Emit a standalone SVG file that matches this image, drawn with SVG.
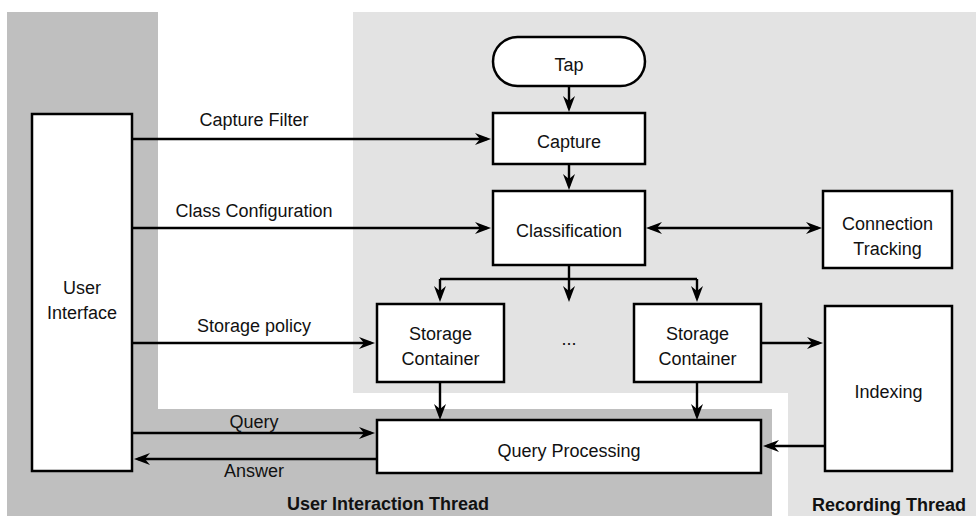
<svg xmlns="http://www.w3.org/2000/svg" width="976" height="516" viewBox="0 0 976 516">
  <style>
    .box { fill: #ffffff; stroke: #000000; stroke-width: 2.5; }
    .lbl { font-family: "Liberation Sans", Arial, Helvetica, sans-serif; font-size: 18px; fill: #111111; text-anchor: middle; }
    .title { font-family: "Liberation Sans", Arial, Helvetica, sans-serif; font-size: 18px; font-weight: bold; fill: #111111; text-anchor: middle; }
    .wire { fill: none; stroke: #000000; stroke-width: 2.4; }
    .arr { marker-end: url(#head); }
    .both { marker-start: url(#head); marker-end: url(#head); }
  </style>
  <defs>
    <marker id="head" viewBox="-17 -7 18 14" markerWidth="18" markerHeight="14" refX="-4" refY="0" orient="auto-start-reverse" markerUnits="userSpaceOnUse">
      <path d="M0,0 L-16,-6 L-11,0 L-16,6 Z" fill="#000000"/>
    </marker>
  </defs>

  <!-- thread regions -->
  <g id="threads">
    <polygon id="recording-area" points="353,12 976,12 976,516 788,516 788,393 353,393" fill="#e3e3e3"/>
    <polygon id="interaction-area" points="7,12 158,12 158,409 772,409 772,516 7,516" fill="#bfbfbf"/>
    <text class="title" x="388" y="510">User Interaction Thread</text>
    <text class="title" x="889" y="511">Recording Thread</text>
  </g>

  <!-- connectors -->
  <g id="connectors">
    <path class="wire arr" d="M569,87 V108"/>
    <path class="wire arr" d="M569,165 V186"/>
    <path class="wire arr" d="M133,139 H487"/>
    <path class="wire arr" d="M133,228 H487"/>
    <path class="wire both" d="M650,228 H818"/>
    <path class="wire" d="M569,266 V279 M440,279 H697"/>
    <path class="wire arr" d="M440,279 V298"/>
    <path class="wire arr" d="M569,279 V298"/>
    <path class="wire arr" d="M697,279 V298"/>
    <path class="wire arr" d="M133,343 H371"/>
    <path class="wire arr" d="M762,343 H819"/>
    <path class="wire arr" d="M440,383 V416"/>
    <path class="wire arr" d="M697,383 V416"/>
    <path class="wire arr" d="M133,433 H371"/>
    <path class="wire arr" d="M376,459 H138"/>
    <path class="wire arr" d="M824,446 H767"/>
    <text class="lbl" x="254" y="126">Capture Filter</text>
    <text class="lbl" x="254" y="216.5">Class Configuration</text>
    <text class="lbl" x="254" y="331.5">Storage policy</text>
    <text class="lbl" x="254" y="427.5">Query</text>
    <text class="lbl" x="254" y="476.5">Answer</text>
    <text class="lbl" x="569" y="345">...</text>
  </g>

  <!-- nodes -->
  <g id="user-interface">
    <rect class="box" x="32" y="114" width="100" height="357"/>
    <text class="lbl" x="82" y="294">User</text>
    <text class="lbl" x="82" y="318.5">Interface</text>
  </g>
  <g id="tap">
    <rect class="box" x="493" y="37" width="152" height="49" rx="24.5"/>
    <text class="lbl" x="569" y="70.5">Tap</text>
  </g>
  <g id="capture">
    <rect class="box" x="493" y="113" width="152" height="51"/>
    <text class="lbl" x="569" y="148">Capture</text>
  </g>
  <g id="classification">
    <rect class="box" x="493" y="191" width="152" height="74"/>
    <text class="lbl" x="569" y="236.5">Classification</text>
  </g>
  <g id="connection-tracking">
    <rect class="box" x="823" y="191" width="129" height="77"/>
    <text class="lbl" x="887.5" y="230">Connection</text>
    <text class="lbl" x="887.5" y="254.5">Tracking</text>
  </g>
  <g id="storage-container-1">
    <rect class="box" x="377" y="304" width="127" height="78"/>
    <text class="lbl" x="440.5" y="340">Storage</text>
    <text class="lbl" x="440.5" y="364.5">Container</text>
  </g>
  <g id="storage-container-2">
    <rect class="box" x="634" y="304" width="127" height="78"/>
    <text class="lbl" x="697.5" y="340">Storage</text>
    <text class="lbl" x="697.5" y="364.5">Container</text>
  </g>
  <g id="indexing">
    <rect class="box" x="825" y="306" width="127" height="165"/>
    <text class="lbl" x="888.5" y="398">Indexing</text>
  </g>
  <g id="query-processing">
    <rect class="box" x="377" y="420" width="384" height="53"/>
    <text class="lbl" x="569" y="456.5">Query Processing</text>
  </g>
</svg>
